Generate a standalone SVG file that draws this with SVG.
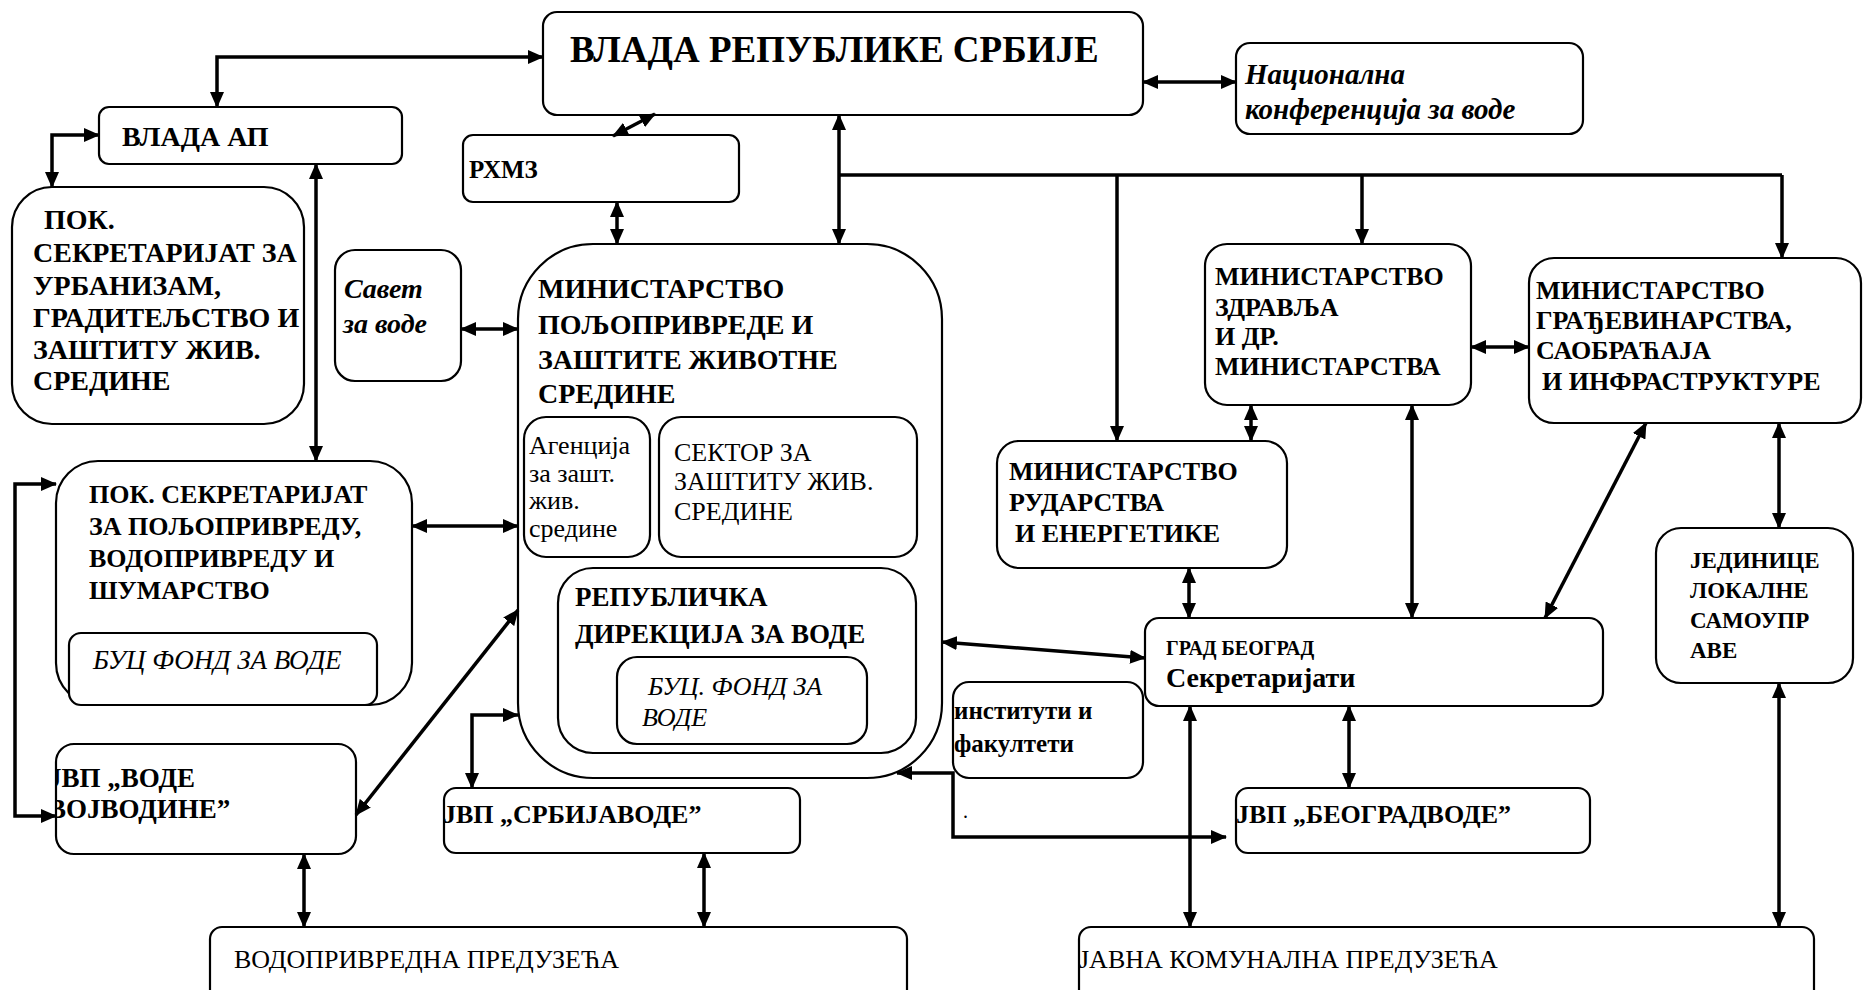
<svg xmlns="http://www.w3.org/2000/svg" width="1863" height="990" viewBox="0 0 1863 990">
<style>
.box{fill:#fff;stroke:#000;stroke-width:2.2}
text{font-family:"Liberation Serif","Times New Roman",serif;fill:#000}
.b{font-weight:bold}
.i{font-style:italic}
.conn path{fill:none;stroke:#000;stroke-width:3.5}
.dbl{marker-start:url(#ah);marker-end:url(#ah)}
.one{marker-end:url(#ah)}
</style>
<defs>
<marker id="ah" viewBox="0 0 16 14" markerWidth="16" markerHeight="14" refX="15" refY="7" orient="auto-start-reverse" markerUnits="userSpaceOnUse">
<path d="M0,0 L16,7 L0,14 z" fill="#000"/>
</marker>
<clipPath id="cVV"><rect x="57" y="745" width="298" height="108"/></clipPath>
<clipPath id="cSRB"><rect x="445" y="789" width="354" height="63"/></clipPath>
<clipPath id="cINS"><rect x="954" y="683" width="188" height="94"/></clipPath>
<clipPath id="cBG"><rect x="1237" y="789" width="352" height="63"/></clipPath>
<clipPath id="cJKP"><rect x="1080" y="928" width="733" height="70"/></clipPath>
</defs>
<rect width="1863" height="990" fill="#fff"/>

<g id="vlada_rs">
<rect class="box" x="543" y="12" width="600" height="103" rx="14"/>
<text class="b" x="570" y="62" font-size="37">ВЛАДА РЕПУБЛИКЕ СРБИЈЕ</text>
</g>
<g id="nacionalna">
<rect class="box" x="1236" y="43" width="347" height="91" rx="14"/>
<text class="b i" font-size="29"><tspan x="1245" y="84">Национална</tspan><tspan x="1245" y="119">конференција за воде</tspan></text>
</g>
<g id="vlada_ap">
<rect class="box" x="99" y="107" width="303" height="57" rx="10"/>
<text class="b" x="122" y="146" font-size="28">ВЛАДА АП</text>
</g>
<g id="pok_urb">
<rect class="box" x="12" y="187" width="292" height="237" rx="40"/>
<text class="b" font-size="28"><tspan x="44" y="229">ПОК.</tspan><tspan x="33" y="262">СЕКРЕТАРИЈАТ ЗА</tspan><tspan x="33" y="295">УРБАНИЗАМ,</tspan><tspan x="33" y="327">ГРАДИТЕЉСТВО И</tspan><tspan x="33" y="359">ЗАШТИТУ ЖИВ.</tspan><tspan x="33" y="390">СРЕДИНЕ</tspan></text>
</g>
<g id="savet">
<rect class="box" x="335" y="250" width="126" height="131" rx="20"/>
<text class="b i" font-size="28"><tspan x="344" y="298">Савет</tspan><tspan x="343" y="333">за воде</tspan></text>
</g>
<g id="rhmz">
<rect class="box" x="463" y="135" width="276" height="67" rx="10"/>
<text class="b" x="469" y="178" font-size="25">РХМЗ</text>
</g>
<g id="min_polj">
<rect class="box" x="518" y="244" width="424" height="534" rx="75"/>
<text class="b" font-size="28"><tspan x="538" y="298">МИНИСТАРСТВО</tspan><tspan x="538" y="334">ПОЉОПРИВРЕДЕ И</tspan><tspan x="538" y="369">ЗАШТИТЕ ЖИВОТНЕ</tspan><tspan x="538" y="403">СРЕДИНЕ</tspan></text>
</g>
<g id="agencija">
<rect class="box" x="524" y="417" width="126" height="140" rx="22"/>
<text font-size="26"><tspan x="529" y="454">Агенција</tspan><tspan x="529" y="482">за зашт.</tspan><tspan x="529" y="509">жив.</tspan><tspan x="529" y="537">средине</tspan></text>
</g>
<g id="sektor">
<rect class="box" x="659" y="417" width="258" height="140" rx="22"/>
<text font-size="26"><tspan x="674" y="461">СЕКТОР ЗА</tspan><tspan x="674" y="490">ЗАШТИТУ ЖИВ.</tspan><tspan x="674" y="520">СРЕДИНЕ</tspan></text>
</g>
<g id="direkcija">
<rect class="box" x="558" y="568" width="358" height="185" rx="35"/>
<text class="b" font-size="27"><tspan x="575" y="606">РЕПУБЛИЧКА</tspan><tspan x="575" y="643">ДИРЕКЦИЈА ЗА ВОДЕ</tspan></text>
</g>
<g id="buc_fond_rep">
<rect class="box" x="617" y="657" width="250" height="87" rx="20"/>
<text class="i" font-size="26"><tspan x="648" y="695">БУЦ. ФОНД ЗА</tspan><tspan x="642" y="726">ВОДЕ</tspan></text>
</g>
<g id="pok_polj">
<rect class="box" x="56" y="461" width="356" height="244" rx="42"/>
<text class="b" font-size="26"><tspan x="89" y="503">ПОК. СЕКРЕТАРИЈАТ</tspan><tspan x="89" y="535">ЗА ПОЉОПРИВРЕДУ,</tspan><tspan x="89" y="567">ВОДОПРИВРЕДУ И</tspan><tspan x="89" y="599">ШУМАРСТВО</tspan></text>
</g>
<g id="buc_fond_ap">
<rect class="box" x="69" y="633" width="308" height="72" rx="12"/>
<text class="i" x="93" y="669" font-size="27">БУЦ ФОНД ЗА ВОДЕ</text>
</g>
<g id="jvp_vv">
<rect class="box" x="56" y="744" width="300" height="110" rx="18"/>
<text class="b" font-size="27" clip-path="url(#cVV)"><tspan x="48" y="787">ЈВП „ВОДЕ</tspan><tspan x="48" y="818">ВОЈВОДИНЕ”</tspan></text>
</g>
<g id="jvp_srb">
<rect class="box" x="444" y="788" width="356" height="65" rx="12"/>
<text class="b" x="443" y="823" font-size="26" clip-path="url(#cSRB)">ЈВП „СРБИЈАВОДЕ”</text>
</g>
<g id="vodoprivredna">
<rect class="box" x="210" y="927" width="697" height="80" rx="12"/>
<text x="234" y="968" font-size="26">ВОДОПРИВРЕДНА ПРЕДУЗЕЋА</text>
</g>
<g id="min_zdr">
<rect class="box" x="1205" y="244" width="266" height="161" rx="22"/>
<text class="b" font-size="26"><tspan x="1215" y="285">МИНИСТАРСТВО</tspan><tspan x="1215" y="316">ЗДРАВЉА</tspan><tspan x="1215" y="345">И ДР.</tspan><tspan x="1215" y="375">МИНИСТАРСТВА</tspan></text>
</g>
<g id="min_gradj">
<rect class="box" x="1529" y="258" width="332" height="165" rx="25"/>
<text class="b" font-size="26"><tspan x="1536" y="299">МИНИСТАРСТВО</tspan><tspan x="1536" y="329">ГРАЂЕВИНАРСТВА,</tspan><tspan x="1536" y="359">САОБРАЋАЈА</tspan><tspan x="1542" y="390">И ИНФРАСТРУКТУРЕ</tspan></text>
</g>
<g id="min_rud">
<rect class="box" x="997" y="441" width="290" height="127" rx="22"/>
<text class="b" font-size="26"><tspan x="1009" y="480">МИНИСТАРСТВО</tspan><tspan x="1009" y="511">РУДАРСТВА</tspan><tspan x="1015" y="542">И ЕНЕРГЕТИКЕ</tspan></text>
</g>
<g id="grad_bg">
<rect class="box" x="1145" y="618" width="458" height="88" rx="14"/>
<text class="b" x="1166" y="655" font-size="20">ГРАД БЕОГРАД</text>
<text class="b" x="1166" y="687" font-size="28">Секретаријати</text>
</g>
<g id="instituti">
<rect class="box" x="953" y="682" width="190" height="96" rx="16"/>
<text class="b" font-size="25" clip-path="url(#cINS)"><tspan x="954" y="719">институти и</tspan><tspan x="954" y="752">факултети</tspan></text>
</g>
<g id="jvp_bg">
<rect class="box" x="1236" y="788" width="354" height="65" rx="12"/>
<text class="b" x="1236" y="823" font-size="26" clip-path="url(#cBG)">ЈВП „БЕОГРАДВОДЕ”</text>
</g>
<g id="jedinice">
<rect class="box" x="1656" y="528" width="197" height="155" rx="25"/>
<text class="b" font-size="23"><tspan x="1690" y="568">ЈЕДИНИЦЕ</tspan><tspan x="1690" y="598">ЛОКАЛНЕ</tspan><tspan x="1690" y="628">САМОУПР</tspan><tspan x="1690" y="658">АВЕ</tspan></text>
</g>
<g id="javna">
<rect class="box" x="1079" y="927" width="735" height="80" rx="12"/>
<text x="1079" y="968" font-size="26" clip-path="url(#cJKP)">ЈАВНА КОМУНАЛНА ПРЕДУЗЕЋА</text>
</g>
<text x="963" y="818" font-size="20">.</text>

<g id="connectors" class="conn">
<path class="dbl" d="M217,107 V57 H543"/>
<path class="dbl" d="M99,135 H52 V187"/>
<path class="dbl" d="M316,164 V461"/>
<path class="dbl" d="M1143,82 H1236"/>
<path class="dbl" d="M655,114 L613,136"/>
<path class="dbl" d="M617,202 V244"/>
<path class="dbl" d="M839,115 V244"/>
<path d="M839,175 H1782"/>
<path class="one" d="M1117,175 V441"/>
<path class="one" d="M1362,175 V244"/>
<path class="one" d="M1782,175 V258"/>
<path class="dbl" d="M461,329 H518"/>
<path class="dbl" d="M412,526 H518"/>
<path class="dbl" d="M56,484 H15 V816 H56"/>
<path class="dbl" d="M518,610 L356,815"/>
<path class="dbl" d="M518,715 H472 V788"/>
<path class="dbl" d="M304,854 V927"/>
<path class="dbl" d="M704,853 V927"/>
<path class="dbl" d="M1471,347 H1529"/>
<path class="dbl" d="M1251,405 V441"/>
<path class="dbl" d="M1189,568 V618"/>
<path class="dbl" d="M1412,405 V618"/>
<path class="dbl" d="M1646,423 L1545,618"/>
<path class="dbl" d="M1779,423 V528"/>
<path class="dbl" d="M1779,683 V927"/>
<path class="dbl" d="M942,642 L1145,658"/>
<path class="dbl" d="M1190,706 V927"/>
<path class="dbl" d="M1349,706 V788"/>
<path class="dbl" d="M897,773 H953 V837 H1226"/>
</g>
</svg>
